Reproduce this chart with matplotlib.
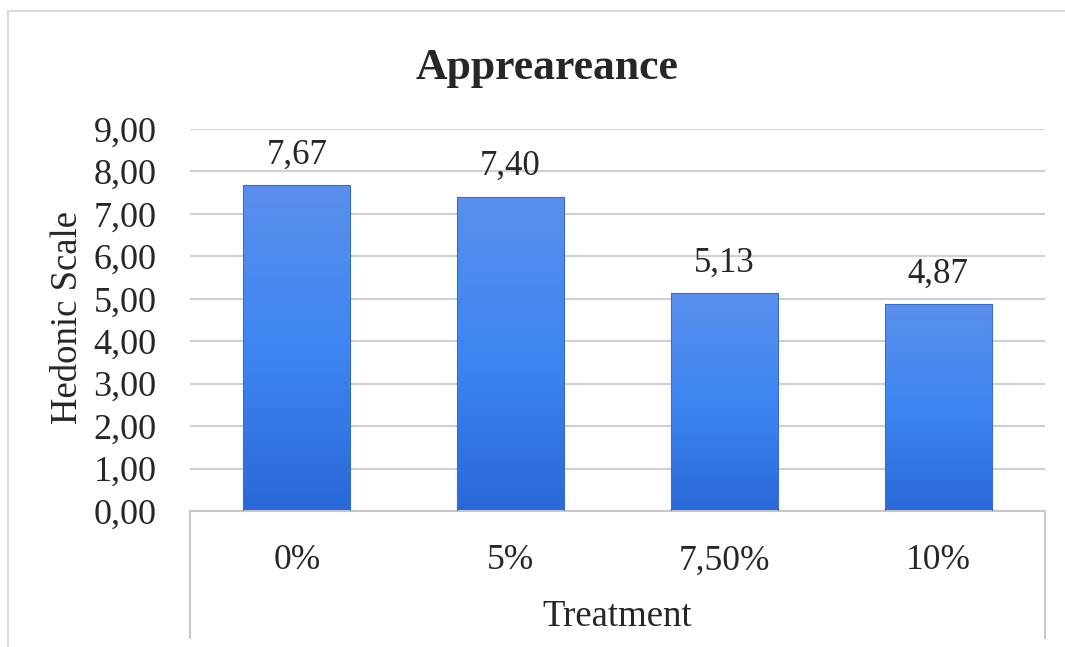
import numpy as np
import matplotlib.pyplot as plt
from matplotlib.colors import LinearSegmentedColormap
from matplotlib.patches import Rectangle

# Данные
categories = ['0%', '5%', '7,50%', '10%']
values = [7.67, 7.40, 5.13, 4.87]
y_ticks = [0, 1, 2, 3, 4, 5, 6, 7, 8, 9]

plt.rcParams['font.family'] = ['Liberation Serif', 'DejaVu Serif']

W, H = 1065, 647
fig = plt.figure(figsize=(W / 100, H / 100), dpi=100)

# Рамка вокруг диаграммы
fig.patches.append(Rectangle((8 / W, -0.01), 1.2, 1 - 11 / H + 0.01, transform=fig.transFigure,
                             fill=False, edgecolor='#D9D9D9', linewidth=1.5))

ax = fig.add_axes([190 / W, 1 - 511 / H, (1045 - 190) / W, (511 - 129) / H])

x = np.arange(len(categories))
bars = ax.bar(x, values, width=0.5, color='none', edgecolor='#3A6CC8', linewidth=0.8, zorder=3)

# Градиентная заливка столбцов
cmap = LinearSegmentedColormap.from_list('grad', ['#2A68D8', '#3E86F2', '#5A8FEC'])
grad = np.linspace(0, 1, 256).reshape(-1, 1)
for b in bars:
    x0, y0 = b.get_x(), b.get_y()
    im = ax.imshow(grad, cmap=cmap, origin='lower', aspect='auto',
                   extent=[x0, x0 + b.get_width(), y0, y0 + b.get_height()], zorder=2)
    im.set_clip_path(b)

for xi, v in zip(x, values):
    ax.text(xi, v + 0.33, f'{v:.2f}'.replace('.', ','), ha='center', va='bottom',
            fontsize=25, color='#262626')

ax.set_xlim(-0.5, len(categories) - 0.5)
ax.set_ylim(0, 9)
ax.set_yticks(y_ticks)
ax.set_yticklabels([f'{t:.2f}'.replace('.', ',') for t in y_ticks])
ax.set_xticks(x)
ax.set_xticklabels(categories)
ax.tick_params(axis='y', length=0, pad=24, labelsize=26, labelcolor='#262626')
ax.tick_params(axis='x', length=0, pad=24, labelsize=25.5, labelcolor='#262626')

ax.grid(axis='y', color='#D0D0D0', linewidth=1.5, zorder=0)
ax.set_axisbelow(True)
for s in ['top', 'right', 'left']:
    ax.spines[s].set_visible(False)
ax.spines['bottom'].set_color('#C8C8C8')
ax.spines['bottom'].set_linewidth(1.5)

# Вертикальные линии оси категорий
drop = (638 - 511) / (511 - 129)
for xa in [0, 1]:
    ax.plot([xa, xa], [0, -drop], transform=ax.transAxes, color='#C8C8C8',
            linewidth=1.5, clip_on=False)

fig.text(547 / W, 1 - 68 / H, 'Appreareance', fontsize=31.5, fontweight='bold',
         color='#262626', ha='center', va='center')
ax.set_ylabel('Hedonic Scale', fontsize=26.5, color='#262626')
ax.yaxis.set_label_coords((68 - 190) / 855, (511 - 318) / 382)
ax.set_xlabel('Treatment', fontsize=26.5, color='#262626')
ax.xaxis.set_label_coords(0.5, (511 - 617) / 382)
ax.xaxis.label.set_va('center')
ax.yaxis.label.set_va('center')

fig.savefig('out.png', dpi=100)
